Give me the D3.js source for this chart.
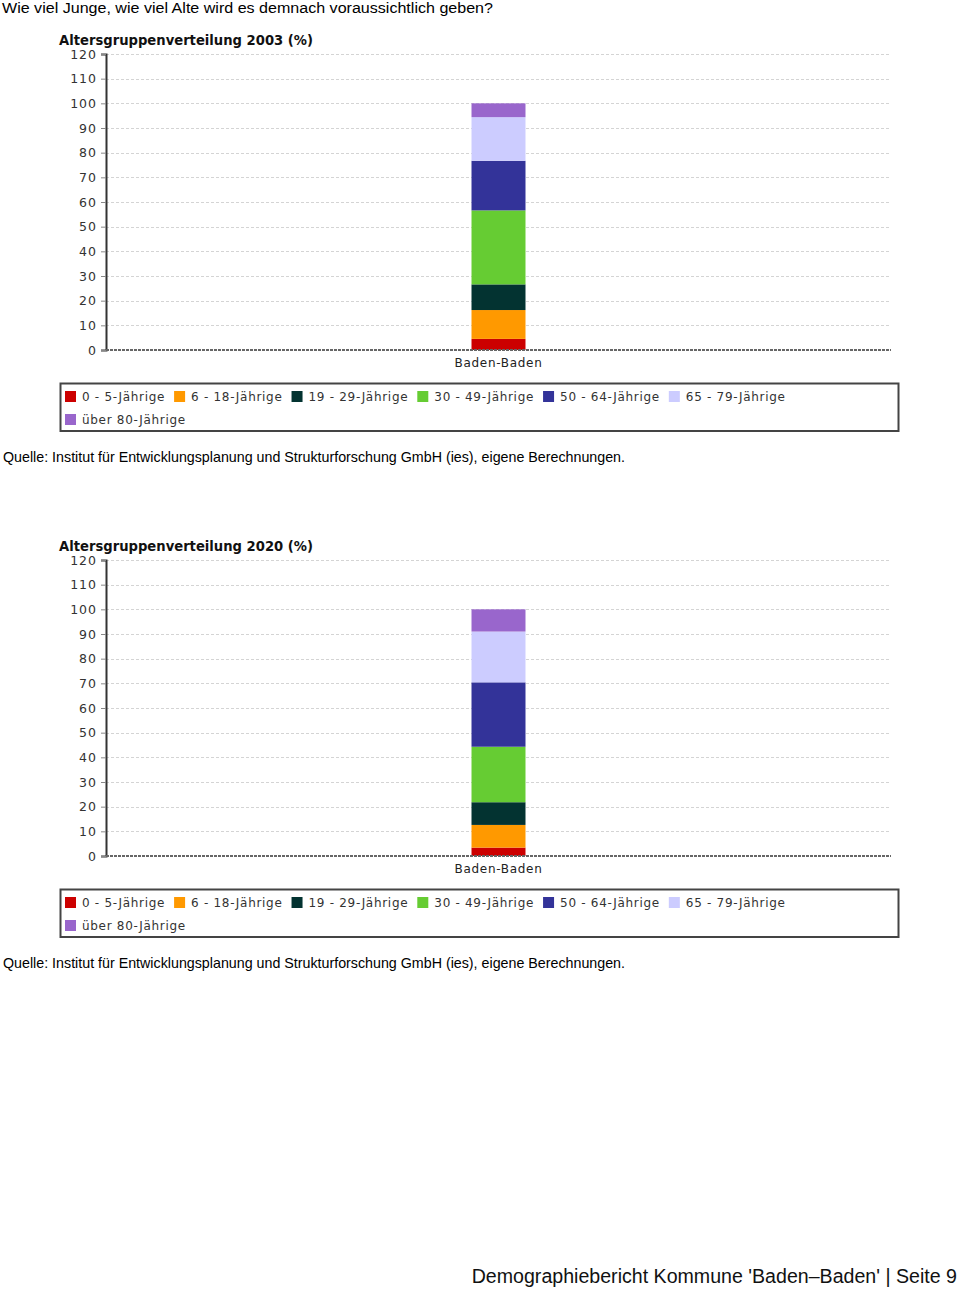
<!DOCTYPE html>
<html><head><meta charset="utf-8">
<script src="https://cdn.jsdelivr.net/npm/d3@7"></script>
<style>
html,body{margin:0;padding:0;background:#fff;}
svg{display:block;}
</style></head>
<body>
<svg id="page" width="960" height="1289"></svg>
<script>
// ---- data ----
const categories = ["Baden-Baden"];
const ageGroups = ["0 - 5-Jährige","6 - 18-Jährige","19 - 29-Jährige","30 - 49-Jährige","50 - 64-Jährige","65 - 79-Jährige","über 80-Jährige"];
const colors = ["#cc0000","#ff9900","#033331","#66cc33","#333399","#ccccff","#9966cc"];
const values2003 = [4.5, 11.7, 10.4, 30.0, 20.1, 17.7, 5.6];
const values2020 = [3.4, 9.2, 9.2, 22.5, 26.1, 20.6, 9.0];
const yTicks = [0,10,20,30,40,50,60,70,80,90,100,110,120];
const titles = ["Altersgruppenverteilung 2003 (%)", "Altersgruppenverteilung 2020 (%)"];
const headerText = "Wie viel Junge, wie viel Alte wird es demnach voraussichtlich geben?";
const sourceText = "Quelle: Institut für Entwicklungsplanung und Strukturforschung GmbH (ies), eigene Berechnungen.";
const footerText = "Demographiebericht Kommune 'Baden\u2013Baden' | Seite 9";

const svg = d3.select("#page");
svg.append("rect").attr("width",960).attr("height",1289).attr("fill","#fff");

svg.append("text").attr("x",2).attr("y",13)
  .attr("font-family","'Liberation Sans', Arial, sans-serif").attr("font-size",15.5)
  .attr("fill","#000").attr("textLength",491).attr("lengthAdjust","spacingAndGlyphs")
  .text(headerText);

svg.append("text").attr("x",957).attr("y",1283).attr("text-anchor","end")
  .attr("font-family","'Liberation Sans', Arial, sans-serif").attr("font-size",19.6)
  .attr("fill","#111")
  .text(footerText);

const chartFont = "'DejaVu Sans', Verdana, sans-serif";

function drawChart(offY, title, vals){
  const g = svg.append("g").attr("transform",`translate(0,${offY})`);
  const x0 = 106, x1 = 891, yTop = 54, yBot = 350;
  const y = d3.scaleLinear().domain([0,120]).range([yBot, yTop]);
  const x = d3.scaleBand().domain(categories).range([x0,x1]).padding(0.8713);

  // title
  g.append("text").attr("x",59).attr("y",45)
    .attr("font-family",chartFont).attr("font-weight","bold").attr("font-size",14.5)
    .attr("fill","#111").attr("textLength",254).attr("lengthAdjust","spacingAndGlyphs")
    .text(title);

  // gridlines
  g.append("g").selectAll("line").data(yTicks.filter(t=>t>0)).join("line")
    .attr("x1",x0).attr("x2",x1).attr("y1",d=>Math.round(y(d))+0.5).attr("y2",d=>Math.round(y(d))+0.5)
    .attr("stroke","#d4d4d4").attr("stroke-width",1).attr("stroke-dasharray","3,2");

  // y axis
  const ax = g.append("g").attr("transform",`translate(${x0},0)`)
    .call(d3.axisLeft(y).tickValues(yTicks).tickSize(5).tickPadding(4).tickFormat(d3.format("d")));
  ax.select(".domain").attr("stroke","#333").attr("stroke-width",2);
  ax.selectAll(".tick line").attr("stroke","#888");
  ax.selectAll(".tick text").attr("font-family",chartFont).attr("font-size",12.5)
    .attr("letter-spacing","1px").attr("fill","#333");

  // stacked bar
  const row = {cat: categories[0]};
  ageGroups.forEach((k,i)=>row[k]=vals[i]);
  const stack = d3.stack().keys(ageGroups)([row]);
  g.append("g").selectAll("rect").data(stack).join("rect")
    .attr("x", x(categories[0]))
    .attr("width", x.bandwidth())
    .attr("y", d=>y(d[0][1]))
    .attr("height", d=>y(d[0][0])-y(d[0][1]))
    .attr("fill",(d,i)=>colors[i]);

  // baseline
  g.append("line").attr("x1",x0).attr("x2",x1).attr("y1",yBot).attr("y2",yBot)
    .attr("stroke","#666").attr("stroke-width",2).attr("stroke-dasharray","3,1");

  // category label
  g.append("text").attr("x",x(categories[0])+x.bandwidth()/2).attr("y",367)
    .attr("text-anchor","middle").attr("font-family",chartFont).attr("font-size",12)
    .attr("letter-spacing","0.7px").attr("fill","#222").text(categories[0]);

  // legend
  g.append("rect").attr("x",60.5).attr("y",383.5).attr("width",838).attr("height",47.5)
    .attr("fill","#fff").attr("stroke","#444").attr("stroke-width",2);
  let lx = 65, ly = 391;
  const rowH = 23;
  ageGroups.forEach((name,i)=>{
    const item = g.append("g");
    const t = item.append("text").attr("font-family",chartFont).attr("font-size",12)
      .attr("letter-spacing","0.7px").attr("fill","#333").text(name);
    const w = t.node().getComputedTextLength();
    if (lx + 17 + w > 880) { lx = 65; ly += rowH; }
    item.append("rect").attr("x",lx).attr("y",ly).attr("width",11).attr("height",11).attr("fill",colors[i]);
    t.attr("x",lx+17).attr("y",ly+10);
    lx += 17 + w + 9;
  });

  // source
  svg.append("text").attr("x",3).attr("y",offY+462)
    .attr("font-family","'Liberation Sans', Arial, sans-serif").attr("font-size",14.5)
    .attr("fill","#000").attr("textLength",622).attr("lengthAdjust","spacingAndGlyphs")
    .text(sourceText);
}

drawChart(0, titles[0], values2003);
drawChart(506, titles[1], values2020);
</script>
</body></html>
